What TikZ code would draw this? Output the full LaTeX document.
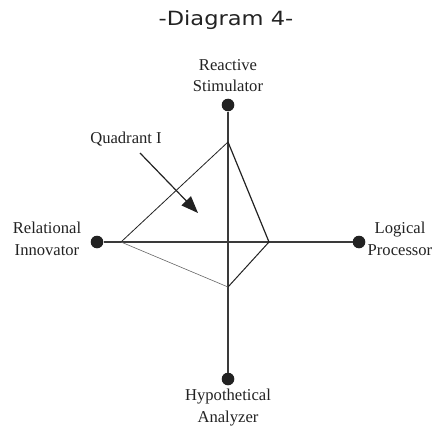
\documentclass[tikz,border=0pt]{standalone}
\usepackage{fontspec}
\setmainfont{Liberation Serif}
\newfontfamily\titlefont[FakeStretch=1.15]{DejaVu Sans}
\usetikzlibrary{arrows.meta}
\definecolor{ink}{HTML}{222222}
\definecolor{axisc}{HTML}{3A3A3A}
\definecolor{faint}{HTML}{666666}
\begin{document}
\begin{tikzpicture}[x=1pt,y=-1pt,
  dot/.style={circle,fill=ink,minimum size=12.6pt,inner sep=0pt},
  axis/.style={draw=axisc,line width=1.3pt},
  edgeA/.style={draw=ink,line width=0.8pt},
  edgeB/.style={draw=ink,line width=1.2pt},
  edgeC/.style={draw=faint,line width=0.6pt},
  edgeD/.style={draw=ink,line width=1.0pt},
  lbl/.style={align=center,inner sep=0pt,anchor=base,text=ink,font=\fontsize{16.6}{21.5}\selectfont},
  pointer/.style={draw=ink,line width=1.2pt,-{Triangle[length=17pt,width=13pt]}}]
\useasboundingbox (0,0) rectangle (433,425);
\node[inner sep=0pt,anchor=base,text=ink,font=\titlefont\fontsize{19.6}{23}\selectfont] (title) at (226,26) {-Diagram 4-};
% axes ends
\node[dot] (top) at (228,105) {};
\node[dot] (bot) at (228,379) {};
\node[dot] (left) at (97,242) {};
\node[dot] (right) at (359,242) {};
\draw[axis] (top) -- (bot);
\draw[axis] (left) -- (right);
% polygon
\coordinate (pT) at (228,142);
\coordinate (pL) at (121,242);
\coordinate (pR) at (269,242);
\coordinate (pB) at (228,287);
\draw[edgeA] (pT) -- (pL);
\draw[edgeB] (pT) -- (pR);
\draw[edgeC] (pL) -- (pB);
\draw[edgeD] (pR) -- (pB);
% labels
\node[lbl] (ltop) at (228,92) {Reactive\\Stimulator};
\node[lbl] (lleft) at (47,255) {Relational\\Innovator};
\node[lbl] (lright) at (400,255) {Logical\\Processor};
\node[lbl] (lbot) at (228,422) {Hypothetical\\Analyzer};
\node[lbl] (quad) at (126,143) {Quadrant I};
% pointer
\coordinate (qa) at (140,153);
\coordinate (qb) at (198,213);
\draw[pointer] (qa) -- (qb);
\end{tikzpicture}
\end{document}
